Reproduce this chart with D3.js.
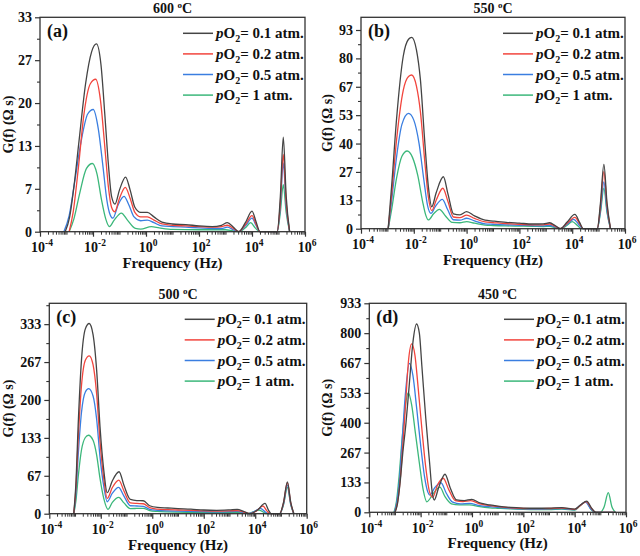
<!DOCTYPE html>
<html><head><meta charset="utf-8">
<script src="https://cdn.jsdelivr.net/npm/d3@7"></script>
<style>
body{margin:0;background:#fff}
svg{display:block}
text{font-family:"Liberation Serif","Times New Roman",serif;font-weight:bold;fill:#111}
</style>
</head><body><svg id="chart" width="640" height="556"></svg>
<script>
// ---------- data ----------
const pO2Labels = ['0.1', '0.2', '0.5', '1'];
const seriesColors = ['#444444', '#f2453d', '#3a7ee0', '#3bb77a'];
const xMajorExps = [-4, -2, 0, 2, 4, 6];
const temps = ['600', '550', '500', '450'];
const panelLabels = ['(a)', '(b)', '(c)', '(d)'];

const yTicksA = [0, 6.667, 13.333, 20, 26.667, 33.333];
const yLabelsA = ['0', '7', '13', '20', '27', '33'];
const yTicksB = [0, 13.333, 26.667, 40, 53.333, 66.667, 80, 93.333];
const yLabelsB = ['0', '13', '27', '40', '53', '67', '80', '93'];
const yTicksC = [0, 66.667, 133.333, 200, 266.667, 333.333];
const yLabelsC = ['0', '67', '133', '200', '267', '333'];
const yTicksD = [0, 133.333, 266.667, 400, 533.333, 666.667, 800, 933.333];
const yLabelsD = ['0', '133', '267', '400', '533', '667', '800', '933'];
const yMax = [33.333, 99.3, 370, 933.333];

// points: [log10(frequency / Hz), G(f)]
const a01 = [[-3.05,0],[-2.88,2.3],[-2.72,7],[-2.53,14],[-2.28,23],[-2.05,28],[-1.87,29.2],[-1.7,26],[-1.55,18],[-1.42,10.5],[-1.3,5.5],[-1.17,4.3],[-1.0,6.5],[-0.77,8.5],[-0.6,6.5],[-0.42,3.8],[-0.2,3.0],[0.05,3.0],[0.3,2.3],[0.6,1.5],[1.0,1.2],[1.5,1.1],[2.0,0.9],[2.5,0.8],[2.85,1.0],[3.07,1.4],[3.3,0.7],[3.5,0],[3.75,1.4],[4.0,3.2],[4.15,1.6],[4.3,0],[4.95,0],[5.07,5.5],[5.18,14.7],[5.29,5.5],[5.42,0]];
const a02 = [[-2.9,0],[-2.75,3],[-2.55,10],[-2.35,18],[-2.1,23],[-1.9,23.7],[-1.72,20.5],[-1.55,13],[-1.42,7],[-1.3,3.8],[-1.18,3.1],[-1.0,5.2],[-0.78,6.9],[-0.6,5.2],[-0.42,3.0],[-0.2,2.3],[0.05,2.3],[0.3,1.8],[0.6,1.2],[1.0,1.0],[1.5,0.9],[2.0,0.8],[2.5,0.7],[2.85,0.8],[3.07,1.0],[3.3,0.5],[3.5,0],[3.75,1.1],[4.0,2.5],[4.15,1.2],[4.3,0],[4.95,0],[5.07,4.5],[5.18,12.0],[5.29,4.5],[5.42,0]];
const a05 = [[-3.1,0],[-2.9,2.5],[-2.7,7.5],[-2.45,14],[-2.2,18.3],[-1.99,19.0],[-1.8,16],[-1.62,10],[-1.48,5],[-1.35,2.6],[-1.25,2.1],[-1.05,4.2],[-0.83,5.5],[-0.65,4.2],[-0.45,2.3],[-0.2,1.7],[0.05,1.8],[0.3,1.4],[0.6,0.9],[1.0,0.8],[1.5,0.7],[2.0,0.6],[2.5,0.5],[2.85,0.5],[3.07,0.7],[3.3,0.3],[3.5,0],[3.75,0.9],[4.0,2.1],[4.15,1.0],[4.3,0],[4.95,0],[5.07,4],[5.18,10.7],[5.29,4],[5.42,0]];
const a10 = [[-2.9,0],[-2.72,2],[-2.5,6],[-2.25,9.8],[-2.02,10.6],[-1.85,9],[-1.68,5],[-1.52,2],[-1.38,0.8],[-1.2,1.8],[-0.93,2.9],[-0.7,1.8],[-0.4,0.5],[-0.2,0.4],[0.2,0.8],[0.5,0.6],[1.0,0.35],[2.0,0.3],[3.0,0.3],[3.3,0.1],[3.5,0],[3.75,0.6],[3.95,1.4],[4.12,0.6],[4.3,0],[4.95,0],[5.07,3],[5.18,7.3],[5.29,3],[5.42,0]];

const b01 = [[-2.97,0],[-2.84,20],[-2.65,52],[-2.4,81],[-2.2,89],[-2.08,89.9],[-1.9,84],[-1.75,70],[-1.58,40],[-1.45,20],[-1.32,10.3],[-1.15,17],[-0.88,24.4],[-0.7,16],[-0.5,7],[-0.25,6.5],[0.0,8],[0.3,6],[0.7,4],[1.0,3.6],[1.5,3],[2.0,2.6],[2.5,2.2],[2.9,2.3],[3.15,2.8],[3.35,1.5],[3.55,0],[3.8,3],[4.1,6.7],[4.28,3],[4.42,0],[4.95,0],[5.07,12],[5.2,30.2],[5.32,12],[5.45,0]];
const b02 = [[-2.97,0],[-2.84,16],[-2.65,42],[-2.4,65],[-2.2,71.5],[-2.08,72.2],[-1.9,67],[-1.75,55],[-1.58,31],[-1.45,15],[-1.32,8.5],[-1.15,13.5],[-0.9,19],[-0.7,12.5],[-0.5,5.5],[-0.25,5.2],[0.0,6.4],[0.3,4.8],[0.7,3.2],[1.0,2.9],[1.5,2.4],[2.0,2.1],[2.5,1.8],[2.9,1.8],[3.15,2.2],[3.35,1.2],[3.55,0],[3.8,2.4],[4.1,5.3],[4.28,2.4],[4.42,0],[4.95,0],[5.07,10.5],[5.2,26.8],[5.32,10.5],[5.45,0]];
const b05 = [[-2.97,0],[-2.84,13],[-2.65,34],[-2.45,49],[-2.2,54.2],[-2.0,51],[-1.8,40],[-1.62,23],[-1.48,11],[-1.35,7.2],[-1.18,10.5],[-0.92,13.8],[-0.72,9],[-0.5,4.2],[-0.25,4.0],[0.0,4.9],[0.3,3.7],[0.7,2.3],[1.0,2.1],[1.5,1.8],[2.0,1.6],[2.5,1.4],[2.9,1.3],[3.15,1.5],[3.35,0.8],[3.55,0],[3.8,2.0],[4.05,4.4],[4.25,2.0],[4.4,0],[4.95,0],[5.07,8.5],[5.2,22],[5.32,8.5],[5.45,0]];
const b10 = [[-2.97,0],[-2.84,9],[-2.65,24],[-2.45,34],[-2.25,36.5],[-2.05,33.5],[-1.85,25],[-1.67,13],[-1.55,6.5],[-1.45,4.1],[-1.25,7],[-1.03,9.1],[-0.8,6],[-0.55,3],[-0.25,2.8],[0.0,3.3],[0.3,2.6],[0.7,1.7],[1.0,1.5],[1.5,1.3],[2.0,1.2],[2.5,1.1],[2.9,1.0],[3.15,1.1],[3.35,0.5],[3.55,0],[3.8,1.5],[4.0,3.3],[4.2,1.5],[4.35,0],[4.95,0],[5.07,7.5],[5.2,19],[5.32,7.5],[5.45,0]];

const c01 = [[-3.05,0],[-2.97,50],[-2.87,165],[-2.75,270],[-2.6,325],[-2.45,334.5],[-2.3,315],[-2.16,252],[-2.03,153],[-1.88,75],[-1.75,37],[-1.55,58],[-1.29,73.8],[-1.1,50],[-0.85,25],[-0.6,23],[-0.35,22.8],[-0.1,14],[0.2,11],[0.6,10],[1.0,9],[1.5,8],[2.0,6.5],[2.5,6],[3.0,6.8],[3.3,7.6],[3.55,4],[3.8,0],[4.1,7],[4.38,18.2],[4.52,6],[4.62,0],[4.95,0],[5.1,20],[5.25,56],[5.38,20],[5.5,0]];
const c02 = [[-3.05,0],[-2.97,42],[-2.87,137],[-2.75,225],[-2.6,270],[-2.45,277.7],[-2.3,262],[-2.16,210],[-2.03,127],[-1.88,60],[-1.75,27],[-1.55,46],[-1.3,59],[-1.1,40],[-0.85,19],[-0.6,18],[-0.35,17.5],[-0.1,10.5],[0.2,8],[0.6,7],[1.0,6.5],[1.5,6],[2.0,5],[2.5,4.5],[3.0,5],[3.3,5.5],[3.55,3],[3.8,0],[4.05,5],[4.3,13.5],[4.45,5],[4.58,0],[4.95,0],[5.1,19],[5.25,54.5],[5.38,19],[5.5,0]];
const c05 = [[-3.05,0],[-2.97,33],[-2.87,108],[-2.75,178],[-2.6,214],[-2.47,220],[-2.3,207],[-2.16,166],[-2.03,100],[-1.88,47],[-1.75,21],[-1.55,36],[-1.31,46.3],[-1.1,31],[-0.85,14],[-0.6,13.5],[-0.35,13],[-0.1,7.5],[0.2,6],[0.6,5],[1.0,4.5],[1.5,4],[2.0,3.5],[2.5,3.2],[3.0,3.5],[3.3,4],[3.55,2],[3.75,0],[3.98,4],[4.2,9.4],[4.38,3.5],[4.5,0],[4.95,0],[5.1,17],[5.25,50.4],[5.38,17],[5.5,0]];
const c10 = [[-3.05,0],[-2.97,21],[-2.87,68],[-2.75,112],[-2.6,134],[-2.48,138],[-2.3,129],[-2.16,103],[-2.03,62],[-1.88,26],[-1.72,7.6],[-1.55,20],[-1.3,28.7],[-1.1,19],[-0.85,9],[-0.6,9.2],[-0.35,9.4],[-0.1,5.5],[0.2,4],[0.6,3.2],[1.0,2.8],[1.5,2.5],[2.0,2.2],[2.5,2],[3.0,2],[3.3,2.2],[3.55,1],[3.7,0],[3.92,3],[4.15,6.4],[4.32,2.5],[4.45,0],[4.95,0],[5.1,16],[5.25,46.3],[5.38,16],[5.5,0]];

const d01 = [[-3.0,0],[-2.9,40],[-2.8,133],[-2.7,260],[-2.57,400],[-2.45,560],[-2.3,760],[-2.16,841],[-2.05,800],[-1.95,650],[-1.8,420],[-1.65,220],[-1.55,90],[-1.47,55],[-1.3,110],[-1.05,170],[-0.85,110],[-0.6,55],[-0.3,52],[-0.01,58],[0.3,42],[0.7,33],[1.0,28],[1.5,22],[2.0,19],[2.5,18],[3.0,19],[3.5,21],[4.0,14],[4.25,35],[4.47,50],[4.65,20],[4.83,0],[5.6,0]];
const d02 = [[-3.0,0],[-2.9,45],[-2.8,140],[-2.7,290],[-2.6,460],[-2.47,680],[-2.35,752],[-2.22,700],[-2.1,560],[-1.95,370],[-1.8,200],[-1.65,90],[-1.53,67],[-1.35,120],[-1.12,152],[-0.9,100],[-0.65,52],[-0.35,48],[-0.05,52],[0.3,38],[0.7,30],[1.0,26],[1.5,20],[2.0,17],[2.5,16],[3.0,17],[3.5,19],[4.0,13],[4.25,33],[4.45,48],[4.65,18],[4.82,0],[5.6,0]];
const d05 = [[-3.02,0],[-2.92,50],[-2.82,150],[-2.72,320],[-2.6,520],[-2.44,665],[-2.3,610],[-2.15,460],[-2.0,300],[-1.85,160],[-1.72,90],[-1.64,77],[-1.45,110],[-1.21,132],[-1.0,85],[-0.75,45],[-0.45,38],[-0.1,40],[0.3,30],[0.7,25],[1.0,22],[1.5,18],[2.0,15],[2.5,14],[3.0,15],[3.5,17],[4.0,12],[4.2,30],[4.42,45],[4.62,16],[4.8,0],[5.6,0]];
const d10 = [[-3.04,0],[-2.94,50],[-2.84,160],[-2.72,330],[-2.6,470],[-2.48,534],[-2.35,480],[-2.2,350],[-2.05,220],[-1.9,100],[-1.76,47],[-1.5,85],[-1.25,112],[-1.05,70],[-0.8,38],[-0.5,33],[-0.1,33],[0.3,25],[0.7,20],[1.0,18],[1.5,15],[2.0,13],[2.5,12],[3.0,12],[3.5,14],[4.0,10],[4.2,28],[4.45,47.6],[4.62,16],[4.8,0],[5.0,0],[5.15,25],[5.31,88],[5.45,25],[5.58,0]];

// ---------- layout ----------
const boxes = [
  {l: 40, r: 305, t: 17.3, b: 231.7, yTitleX: 13},
  {l: 361, r: 625, t: 17.3, b: 228.7, yTitleX: 332},
  {l: 49.3, r: 306.7, t: 303.3, b: 513.7, yTitleX: 13},
  {l: 369.3, r: 626, t: 303.3, b: 512.3, yTitleX: 332}
];
const panels = [
  {ticks: yTicksA, labels: yLabelsA, series: [a01, a02, a05, a10]},
  {ticks: yTicksB, labels: yLabelsB, series: [b01, b02, b05, b10]},
  {ticks: yTicksC, labels: yLabelsC, series: [c01, c02, c05, c10]},
  {ticks: yTicksD, labels: yLabelsD, series: [d01, d02, d05, d10]}
];

const svg = d3.select('#chart');
const axisColor = '#333';

panels.forEach((p, i) => {
  const bx = boxes[i];
  const x = d3.scaleLog().domain([1e-4, 1e6]).range([bx.l, bx.r]);
  const y = d3.scaleLinear().domain([0, yMax[i]]).range([bx.b, bx.t]);
  const g = svg.append('g');

  const line = d3.line()
    .x(d => x(Math.pow(10, d[0])))
    .y(d => y(d[1]))
    .curve(d3.curveMonotoneX);
  [3, 2, 1, 0].forEach(k => {
    g.append('path').datum(p.series[k])
      .attr('d', line)
      .attr('fill', 'none')
      .attr('stroke', seriesColors[k])
      .attr('stroke-width', 1.3);
  });

  g.append('rect').attr('x', bx.l).attr('y', bx.t)
    .attr('width', bx.r - bx.l).attr('height', bx.b - bx.t)
    .attr('fill', 'none').attr('stroke', axisColor).attr('stroke-width', 1.3);

  const yAxis = d3.axisLeft(y).tickValues(p.ticks)
    .tickFormat((d, j) => p.labels[j]).tickSizeOuter(0).tickSize(5).tickPadding(3);
  const ya = g.append('g').attr('transform', `translate(${bx.l},0)`).call(yAxis);
  ya.select('.domain').remove();
  ya.selectAll('line').attr('stroke', axisColor).attr('stroke-width', 1.2);
  ya.selectAll('text').style('font-size', '14px').attr('fill', '#111');

  const step = p.ticks[1] - p.ticks[0];
  const yMinor = [];
  for (let v = step / 2; v <= yMax[i] + 1e-6; v += step) yMinor.push(v);
  g.append('g').attr('transform', `translate(${bx.l},0)`)
    .call(d3.axisLeft(y).tickValues(yMinor).tickFormat('').tickSize(3).tickSizeOuter(0))
    .call(s => s.select('.domain').remove())
    .selectAll('line').attr('stroke', axisColor).attr('stroke-width', 1.1);

  const xMajor = xMajorExps.map(e => Math.pow(10, e));
  const xa = g.append('g').attr('transform', `translate(0,${bx.b})`)
    .call(d3.axisBottom(x).tickValues(xMajor).tickFormat('').tickSize(5).tickSizeOuter(0));
  xa.select('.domain').remove();
  xa.selectAll('line').attr('stroke', axisColor).attr('stroke-width', 1.2);
  const xMinor = [];
  for (let e = -4; e < 6; e++) for (let k = 1; k <= 9; k++) {
    if (k === 1 && e % 2 === 0) continue;
    xMinor.push(k * Math.pow(10, e));
  }
  g.append('g').attr('transform', `translate(0,${bx.b})`)
    .call(d3.axisBottom(x).tickValues(xMinor).tickFormat('').tickSize(3).tickSizeOuter(0))
    .call(s => s.select('.domain').remove())
    .selectAll('line').attr('stroke', axisColor).attr('stroke-width', 1);

  xMajorExps.forEach(e => {
    const t = g.append('text').attr('x', x(Math.pow(10, e)) + 2).attr('y', bx.b + 20.5)
      .attr('text-anchor', 'middle').style('font-size', '14px');
    t.append('tspan').text('10');
    t.append('tspan').attr('dy', -6).style('font-size', '9.5px').text(String(e));
  });

  g.append('text').attr('x', (bx.l + bx.r) / 2).attr('y', bx.b + 36)
    .attr('text-anchor', 'middle').style('font-size', '15px').text('Frequency (Hz)');
  g.append('text')
    .attr('transform', `translate(${bx.yTitleX},${(bx.t + bx.b) / 2}) rotate(-90)`)
    .attr('text-anchor', 'middle').style('font-size', '14px').text('G(f) (Ω s)');

  const tt = g.append('text').attr('x', (bx.l + bx.r) / 2).attr('y', bx.t - 4.5)
    .attr('text-anchor', 'middle').style('font-size', '14px');
  tt.append('tspan').text(temps[i] + ' ');
  tt.append('tspan').attr('dy', -5).style('font-size', '9px').text('o');
  tt.append('tspan').attr('dy', 5).text('C');

  g.append('text').attr('x', bx.l + 7).attr('y', bx.t + 20)
    .style('font-size', '18px').text(panelLabels[i]);

  pO2Labels.forEach((lab, k) => {
    const ly = bx.t + 16 + k * 20.6;
    g.append('line').attr('x1', bx.r - 122).attr('x2', bx.r - 92)
      .attr('y1', ly).attr('y2', ly)
      .attr('stroke', seriesColors[k]).attr('stroke-width', 1.5);
    const t = g.append('text').attr('x', bx.r - 89).attr('y', ly + 5).style('font-size', '15px');
    t.append('tspan').style('font-style', 'italic').text('p');
    t.append('tspan').text('O');
    t.append('tspan').attr('dy', 4).style('font-size', '10px').text('2');
    t.append('tspan').attr('dy', -4).text('= ' + lab + ' atm.');
  });
});
</script>
</body></html>
